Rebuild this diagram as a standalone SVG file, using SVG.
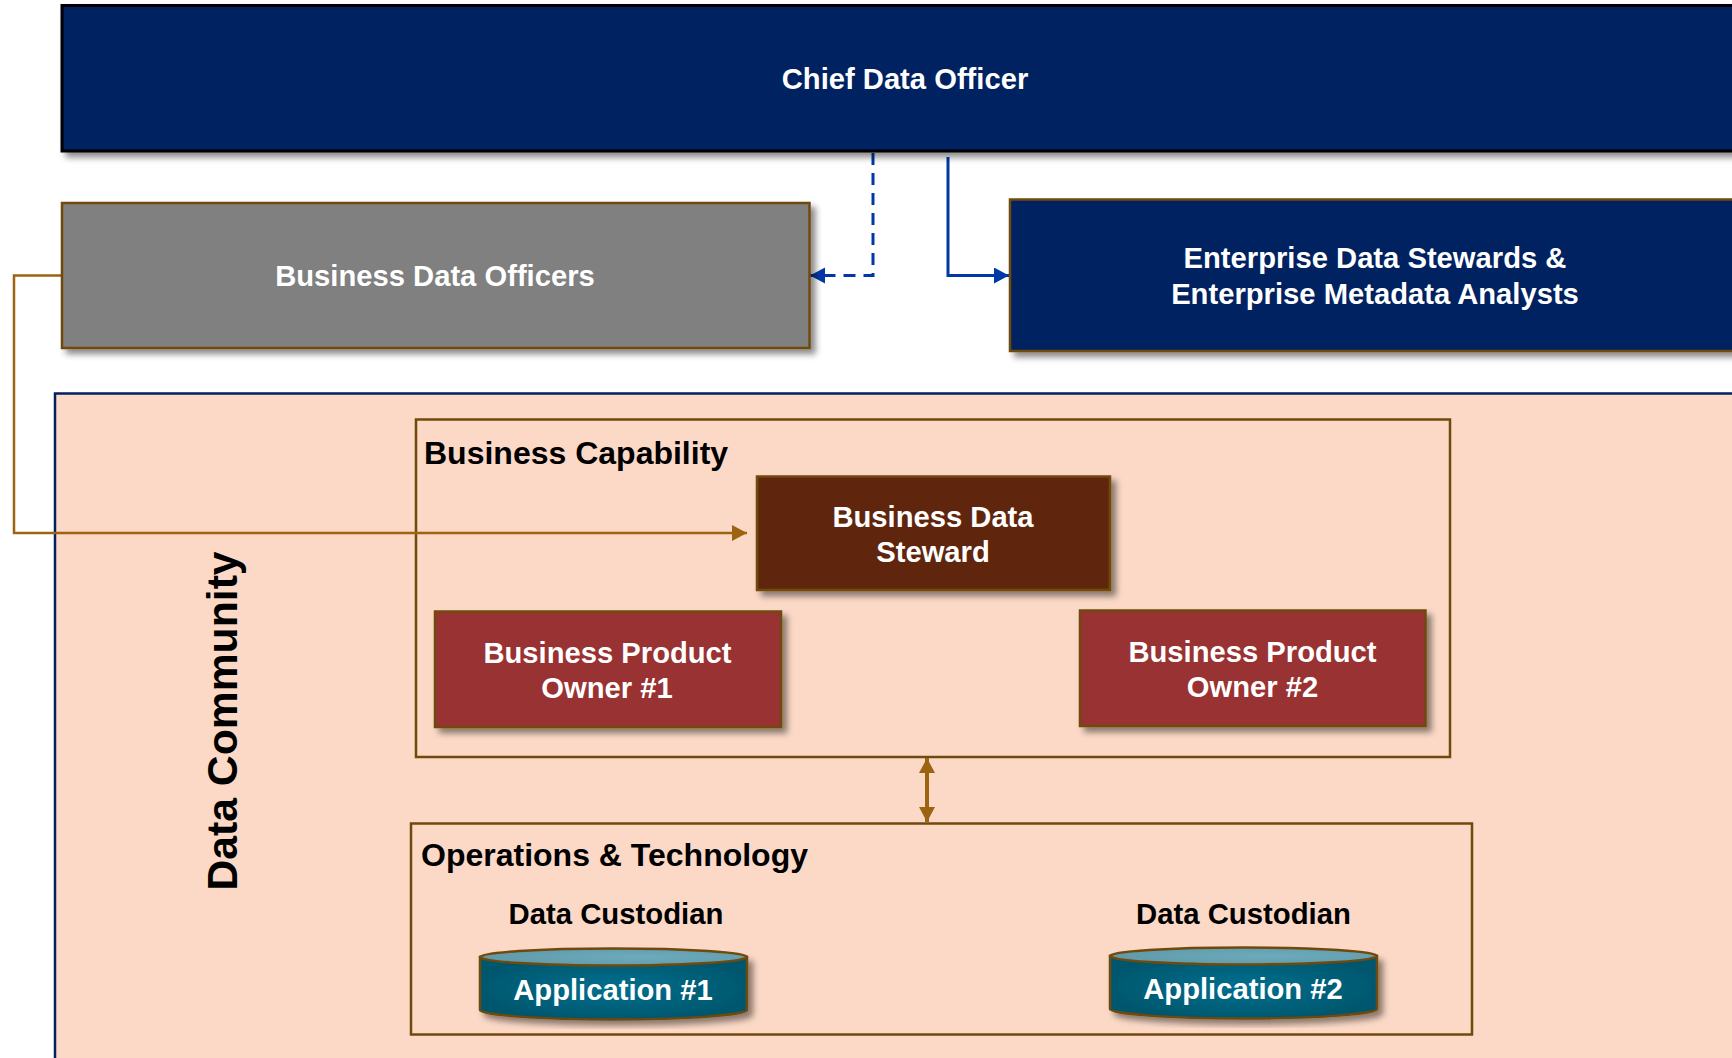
<svg xmlns="http://www.w3.org/2000/svg" width="1732" height="1058" viewBox="0 0 1732 1058">
<style>
text{font-family:"Liberation Sans",Arial,sans-serif;font-weight:700}
.w{fill:#fff;font-size:29.200px;text-anchor:middle}
.k{fill:#000;font-size:32px}
.c{fill:#000;font-size:29.300px;text-anchor:middle}
.b{stroke:#704a0c;stroke-width:2.500}
.f{fill:none;stroke:#704a0c;stroke-width:2.500}
.bl{fill:none;stroke:#0039a6;stroke-width:3}
.go{fill:none;stroke:#9c6410;stroke-width:2.500}
</style>
<defs>
<filter id="s" x="-5%" y="-10%" width="110%" height="125%"><feDropShadow dx="5" dy="5" stdDeviation="3" flood-color="#000" flood-opacity=".45"/></filter>
<radialGradient id="g" cx=".5" cy=".5" r=".55"><stop offset="0" stop-color="#006f8f"/><stop offset="1" stop-color="#00566c"/></radialGradient>
<radialGradient id="t" cx=".6" cy=".5" r=".6"><stop offset="0" stop-color="#6cabbd"/><stop offset="1" stop-color="#609aa9"/></radialGradient>
<marker id="ab" markerUnits="userSpaceOnUse" markerWidth="16" markerHeight="18" refX="15" refY="8" orient="auto-start-reverse"><path d="M0 0L15 8L0 16Z" fill="#0039a6"/></marker>
<marker id="ag" markerUnits="userSpaceOnUse" markerWidth="16" markerHeight="18" refX="15" refY="8" orient="auto-start-reverse"><path d="M0 0L15 8L0 16Z" fill="#9c6410"/></marker>
</defs>
<rect width="1732" height="1058" fill="#fff"/>
<g id="data-community"><rect x="55" y="393.500" width="1700" height="670" fill="#fbd9c6" stroke="#002060" stroke-width="2.500"/>
<text class="k" transform="translate(237 721) rotate(-90)" text-anchor="middle" style="font-size:42.700px">Data Community</text></g>
<g id="business-capability"><rect class="f" x="416" y="419.500" width="1034" height="337.500"/><text class="k" x="424" y="464">Business Capability</text></g>
<g id="operations-technology"><rect class="f" x="411" y="823.500" width="1061" height="211"/><text class="k" x="421" y="866">Operations &amp; Technology</text></g>
<g id="connectors">
<path class="bl" d="M873 153V275.500H810" stroke-dasharray="12 8" marker-end="url(#ab)"/>
<path class="bl" d="M948 157V275.500H1009" marker-end="url(#ab)"/>
<path class="go" d="M62 275.500H14V533H747" marker-end="url(#ag)"/>
<path d="M927 758V822" fill="none" stroke="#9c6410" stroke-width="4" marker-start="url(#ag)" marker-end="url(#ag)"/>
</g>
<g id="chief-data-officer"><rect x="62" y="5.500" width="1700" height="145.500" fill="#002060" stroke="#000" stroke-width="3" filter="url(#s)"/><text class="w" x="905" y="89">Chief Data Officer</text></g>
<g id="business-data-officers"><rect class="b" x="62" y="203" width="747.500" height="145" fill="#808080" filter="url(#s)"/><text class="w" x="435" y="286">Business Data Officers</text></g>
<g id="enterprise-stewards"><rect class="b" x="1010" y="199.500" width="740" height="151.500" fill="#002060" filter="url(#s)"/><text class="w" x="1375" y="268">Enterprise Data Stewards &amp;</text><text class="w" x="1375" y="304">Enterprise Metadata Analysts</text></g>
<g id="business-data-steward"><rect class="b" x="757" y="476.500" width="353" height="113.500" fill="#5f2808" filter="url(#s)"/><text class="w" x="933" y="527">Business Data</text><text class="w" x="933" y="562">Steward</text></g>
<g id="product-owner-1"><rect class="b" x="435" y="611.500" width="346" height="115.500" fill="#993333" filter="url(#s)"/><text class="w" x="607.500" y="663">Business Product</text><text class="w" x="607" y="697.500">Owner #1</text></g>
<g id="product-owner-2"><rect class="b" x="1080" y="610.500" width="345.500" height="115.500" fill="#993333" filter="url(#s)"/><text class="w" x="1252.500" y="662">Business Product</text><text class="w" x="1252.500" y="696.500">Owner #2</text></g>
<g id="application-1"><text class="c" x="616" y="924">Data Custodian</text>
<path class="b" d="M480 957V1010C480 1015 540 1019.500 613.500 1019.500S747 1015 747 1010V957Z" fill="url(#g)" filter="url(#s)"/><ellipse class="b" cx="613.500" cy="957" rx="133.500" ry="8.500" fill="url(#t)"/><text class="w" x="613" y="1000">Application #1</text></g>
<g id="application-2"><text class="c" x="1243.500" y="924">Data Custodian</text>
<path class="b" d="M1110 956V1009C1110 1014 1170 1018.500 1243.500 1018.500S1377 1014 1377 1009V956Z" fill="url(#g)" filter="url(#s)"/><ellipse class="b" cx="1243.500" cy="956" rx="133.500" ry="8.500" fill="url(#t)"/><text class="w" x="1243" y="999">Application #2</text></g>
</svg>
